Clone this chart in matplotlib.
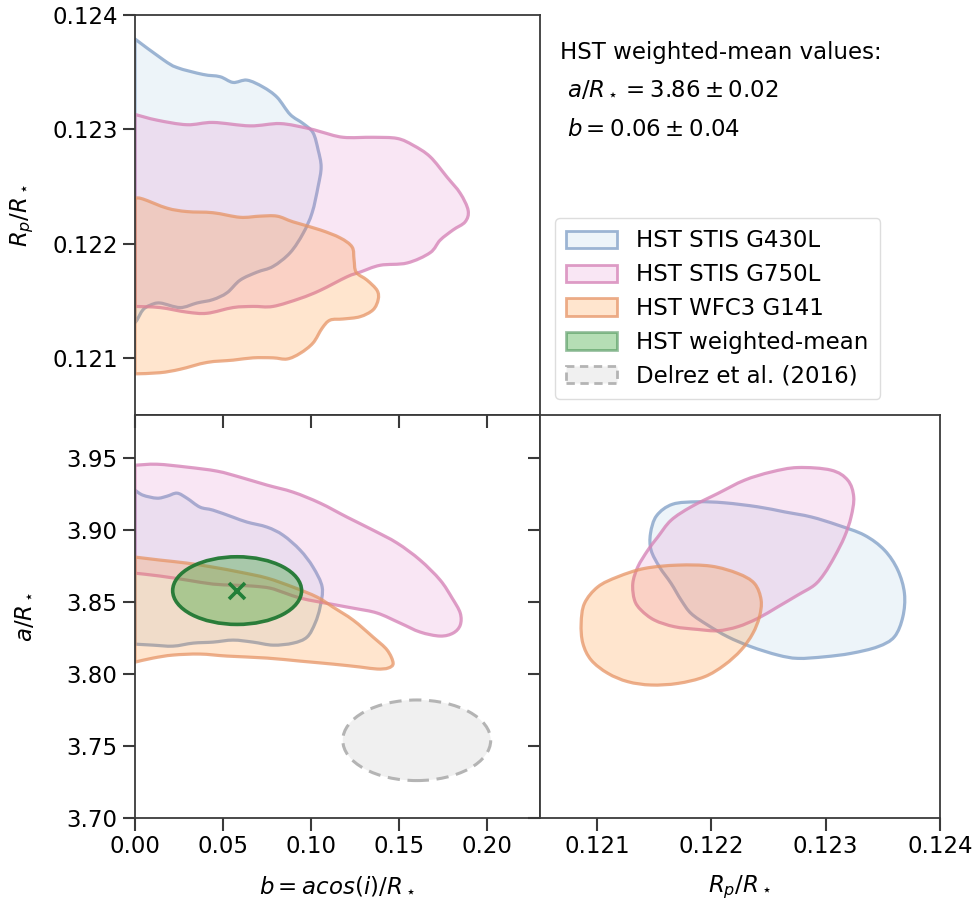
import matplotlib
matplotlib.use("Agg")
import numpy as np
import matplotlib.pyplot as plt
from matplotlib.patches import PathPatch, Ellipse, Patch
from matplotlib.path import Path

# ---------------- data (contour outlines) ----------------
labels = ["HST STIS G430L", "HST STIS G750L", "HST WFC3 G141",
          "HST weighted-mean", "Delrez et al. (2016)"]

# Top-left panel: b vs Rp/R*
g430_b_rp_x = [0, 0.0159, 0.0239, 0.0386, 0.0483, 0.0557, 0.0636, 0.0727, 0.0807, 0.0881,
               0.0955, 0.1011, 0.1040, 0.1057, 0.1040, 0.1006, 0.0955, 0.0881, 0.0784, 0.0693,
               0.0597, 0.0523, 0.0443, 0.0352, 0.0256, 0.0142, 0.0085, 0.0045, 0.0011, 0]
g430_b_rp_y = [0.12379, 0.12361, 0.12354, 0.12348, 0.12346, 0.12341, 0.12343, 0.12337, 0.12328, 0.12313,
               0.12305, 0.12297, 0.12282, 0.12267, 0.12250, 0.12227, 0.12209, 0.12192, 0.12180, 0.12175,
               0.12168, 0.12157, 0.12151, 0.12148, 0.12144, 0.12148, 0.12146, 0.12142, 0.12133, 0.12131]

g750_b_rp_x = [0, 0.0125, 0.0295, 0.0443, 0.0653, 0.0824, 0.0977, 0.1051, 0.1182, 0.1352,
               0.1489, 0.1580, 0.1676, 0.1773, 0.1847, 0.1892, 0.1875, 0.1807, 0.1733, 0.1676,
               0.1545, 0.1392, 0.1278, 0.1205, 0.1051, 0.0938, 0.0784, 0.0670, 0.0557, 0.0409,
               0.0295, 0.0142, 0]
g750_b_rp_y = [0.12313, 0.12308, 0.12304, 0.12306, 0.12303, 0.12305, 0.12301, 0.12298, 0.12293, 0.12293,
               0.12292, 0.12286, 0.12276, 0.12258, 0.12244, 0.12229, 0.12219, 0.12212, 0.12203, 0.12192,
               0.12183, 0.12181, 0.12175, 0.12171, 0.12159, 0.12152, 0.12145, 0.12145, 0.12144, 0.12139,
               0.12140, 0.12144, 0.12145]

g141_b_rp_x = [0, 0.0045, 0.0182, 0.0295, 0.0443, 0.0597, 0.0710, 0.0807, 0.0898, 0.1051,
               0.1165, 0.1233, 0.1244, 0.1256, 0.1318, 0.1375, 0.1381, 0.1352, 0.1278, 0.1182,
               0.1108, 0.1063, 0.1011, 0.0938, 0.0864, 0.0784, 0.0670, 0.0557, 0.0409, 0.0256,
               0.0142, 0]
g141_b_rp_y = [0.12240, 0.12239, 0.12231, 0.12228, 0.12227, 0.12223, 0.12224, 0.12224, 0.12219, 0.12212,
               0.12205, 0.12197, 0.12186, 0.12175, 0.12168, 0.12159, 0.12151, 0.12142, 0.12136, 0.12134,
               0.12133, 0.12126, 0.12113, 0.12104, 0.12099, 0.12100, 0.12100, 0.12098, 0.12096, 0.12090,
               0.12087, 0.12086]

# Bottom-left panel: b vs a/R*
g430_b_a_x = [0, 0.0045, 0.0125, 0.0182, 0.0239, 0.0295, 0.0369, 0.0443, 0.0557, 0.0636,
              0.0750, 0.0841, 0.0938, 0.1011, 0.1063, 0.1051, 0.1023, 0.0977, 0.0898, 0.0784,
              0.0670, 0.0557, 0.0443, 0.0330, 0.0216, 0.0102, 0]
g430_b_a_y = [3.9278, 3.9243, 3.9222, 3.9236, 3.9257, 3.9222, 3.9160, 3.9139, 3.9090, 3.9056,
              3.9021, 3.8965, 3.8861, 3.8743, 3.8604, 3.8465, 3.8354, 3.8257, 3.8215, 3.8201,
              3.8222, 3.8236, 3.8222, 3.8215, 3.8194, 3.8201, 3.8208]

g750_b_a_x = [0, 0.0125, 0.0295, 0.0466, 0.0597, 0.0750, 0.0898, 0.1051, 0.1205, 0.1352,
              0.1489, 0.1619, 0.1733, 0.1801, 0.1847, 0.1847, 0.1807, 0.1733, 0.1619, 0.1506,
              0.1375, 0.1239, 0.1051, 0.0938, 0.0852, 0.0767, 0.0670, 0.0557, 0.0443, 0.0295,
              0.0142, 0]
g750_b_a_y = [3.9451, 3.9458, 3.9438, 3.9410, 3.9368, 3.9313, 3.9264, 3.9188, 3.9090, 3.9000,
              3.8910, 3.8792, 3.8653, 3.8528, 3.8424, 3.8340, 3.8285, 3.8264, 3.8292, 3.8354,
              3.8424, 3.8458, 3.8500, 3.8528, 3.8563, 3.8597, 3.8611, 3.8618, 3.8625, 3.8653,
              3.8681, 3.8701]

g141_b_a_x = [0, 0.0142, 0.0295, 0.0443, 0.0597, 0.0750, 0.0898, 0.1034, 0.1125, 0.1239,
              0.1352, 0.1432, 0.1466, 0.1438, 0.1375, 0.1278, 0.1125, 0.0938, 0.0750, 0.0523,
              0.0369, 0.0216, 0.0102, 0]
g141_b_a_y = [3.8813, 3.8792, 3.8771, 3.8743, 3.8708, 3.8667, 3.8604, 3.8535, 3.8465, 3.8375,
              3.8257, 3.8167, 3.8076, 3.8042, 3.8035, 3.8049, 3.8069, 3.8090, 3.8111, 3.8125,
              3.8139, 3.8132, 3.8111, 3.8083]

# Bottom-right panel: Rp/R* vs a/R*
g430_rp_a_x = [0.121660, 0.121881, 0.122114, 0.122406, 0.122639, 0.122872, 0.123106, 0.123339,
               0.123514, 0.123631, 0.123689, 0.123675, 0.123601, 0.123456, 0.123222, 0.122989,
               0.122756, 0.122581, 0.122347, 0.122143, 0.121968, 0.121822, 0.121735, 0.121647,
               0.121545, 0.121472, 0.121467, 0.121520]
g430_rp_a_y = [3.9180, 3.9197, 3.9190, 3.9162, 3.9127, 3.9092, 3.9035, 3.8965,
               3.8861, 3.8722, 3.8560, 3.8398, 3.8259, 3.8190, 3.8144, 3.8120,
               3.8109, 3.8132, 3.8190, 3.8259, 3.8340, 3.8421, 3.8514, 3.8630,
               3.8745, 3.8861, 3.8977, 3.9100]

g750_rp_a_x = [0.122756, 0.123047, 0.123193, 0.123245, 0.123222, 0.123164, 0.123077, 0.122989,
               0.122901, 0.122756, 0.122581, 0.122406, 0.122231, 0.122056, 0.121881, 0.121676,
               0.121501, 0.121385, 0.121327, 0.121312, 0.121356, 0.121444, 0.121531, 0.121647,
               0.121822, 0.122056, 0.122289, 0.122522]
g750_rp_a_y = [3.9435, 3.9417, 3.9347, 3.9231, 3.9092, 3.8953, 3.8815, 3.8699,
               3.8618, 3.8549, 3.8467, 3.8387, 3.8329, 3.8301, 3.8310, 3.8329,
               3.8375, 3.8444, 3.8514, 3.8630, 3.8745, 3.8861, 3.8953, 3.9069,
               3.9162, 3.9255, 3.9347, 3.9404]

g141_rp_a_x = [0.120889, 0.121006, 0.121181, 0.121414, 0.121706, 0.121997, 0.122231, 0.122376,
               0.122435, 0.122420, 0.122362, 0.122260, 0.122114, 0.121939, 0.121706, 0.121472,
               0.121269, 0.121094, 0.120948, 0.120875, 0.120860]
g141_rp_a_y = [3.8491, 3.8606, 3.8676, 3.8734, 3.8757, 3.8750, 3.8699, 3.8630,
               3.8514, 3.8398, 3.8282, 3.8167, 3.8063, 3.7981, 3.7935, 3.7924,
               3.7947, 3.8005, 3.8097, 3.8213, 3.8352]

# weighted mean and literature values (b, a/R*) with 1-sigma
wm_b, wm_b_err = 0.058, 0.0366
wm_a, wm_a_err = 3.858, 0.0235
delrez_b, delrez_b_err = 0.160, 0.042
delrez_a, delrez_a_err = 3.754, 0.028

b_ticks = [0.00, 0.05, 0.10, 0.15, 0.20]
a_ticks = [3.70, 3.75, 3.80, 3.85, 3.90, 3.95]
rp_ticks = [0.121, 0.122, 0.123, 0.124]

# ---------------- styles ----------------
fills = {"g430": (0.12, 0.47, 0.71, 0.08),
         "g750": (0.89, 0.47, 0.76, 0.18),
         "g141": (1.00, 0.50, 0.05, 0.20)}
edges = {"g430": (0.55, 0.66, 0.80, 0.85),
         "g750": (0.84, 0.52, 0.72, 0.80),
         "g141": (0.90, 0.58, 0.40, 0.75)}
green_fill = (0.17, 0.63, 0.17, 0.35)
green_edge = (0.13, 0.47, 0.20, 0.95)
grey_fill = "#f0f0f0"
grey_edge = "#b4b4b4"
FS = 16.5
LW = 2.3

plt.rcParams.update({"font.size": FS, "axes.edgecolor": "#3a3a3a",
                     "axes.linewidth": 1.3, "xtick.color": "#3a3a3a",
                     "ytick.color": "#3a3a3a", "xtick.labelcolor": "black",
                     "ytick.labelcolor": "black", "mathtext.fontset": "dejavusans"})

fig = plt.figure(figsize=(9.75, 9.01), dpi=100)
ax_tl = fig.add_axes([135/975, 1-415/901, 405/975, 400/901])
ax_bl = fig.add_axes([135/975, 1-818/901, 405/975, 403/901])
ax_br = fig.add_axes([540/975, 1-818/901, 400/975, 403/901])


def smooth_path(xs, ys, closed):
    """Smooth outline through the traced vertices (cubic Bezier segments)."""
    P = np.column_stack([xs, ys]).astype(float)
    n = len(P)
    if closed:
        get = lambda i: P[i % n]
        segs = range(n)
    else:
        get = lambda i: P[min(max(i, 0), n - 1)]
        segs = range(n - 1)
    verts = [P[0]]
    codes = [Path.MOVETO]
    for i in segs:
        p0, p1, p2, p3 = get(i - 1), get(i), get(i + 1), get(i + 2)
        verts += [p1 + (p2 - p0) / 6.0, p2 - (p3 - p1) / 6.0, p2]
        codes += [Path.CURVE4] * 3
    verts.append(P[0])
    codes.append(Path.CLOSEPOLY)
    return Path(verts, codes)


def add_poly(ax, xs, ys, key, closed=True):
    ax.add_patch(PathPatch(smooth_path(xs, ys, closed), facecolor=fills[key],
                           edgecolor=edges[key], lw=LW, joinstyle="round"))


# top-left
add_poly(ax_tl, g430_b_rp_x, g430_b_rp_y, "g430", closed=False)
add_poly(ax_tl, g750_b_rp_x, g750_b_rp_y, "g750", closed=False)
add_poly(ax_tl, g141_b_rp_x, g141_b_rp_y, "g141", closed=False)
# bottom-left
add_poly(ax_bl, g430_b_a_x, g430_b_a_y, "g430", closed=False)
add_poly(ax_bl, g750_b_a_x, g750_b_a_y, "g750", closed=False)
add_poly(ax_bl, g141_b_a_x, g141_b_a_y, "g141", closed=False)
ax_bl.add_patch(Ellipse((wm_b, wm_a), 2*wm_b_err, 2*wm_a_err, facecolor=green_fill,
                        edgecolor=green_edge, lw=2.6, zorder=5))
ax_bl.plot([wm_b], [wm_a], marker="x", ms=11, mew=2.6, color=(0.13, 0.50, 0.22), zorder=6)
ax_bl.add_patch(Ellipse((delrez_b, delrez_a), 2*delrez_b_err, 2*delrez_a_err,
                        facecolor=grey_fill, edgecolor=grey_edge, lw=2.2,
                        ls=(0, (4, 2.5)), zorder=4))
# bottom-right
add_poly(ax_br, g430_rp_a_x, g430_rp_a_y, "g430")
add_poly(ax_br, g750_rp_a_x, g750_rp_a_y, "g750")
add_poly(ax_br, g141_rp_a_x, g141_rp_a_y, "g141")

# limits
ax_tl.set_xlim(0, 0.23)
ax_tl.set_ylim(0.1205, 0.124)
ax_bl.set_xlim(0, 0.23)
ax_bl.set_ylim(3.70, 3.98)
ax_br.set_xlim(0.1205, 0.124)
ax_br.set_ylim(3.70, 3.98)

TL, TW = 9, 1.5
# top-left ticks
ax_tl.set_yticks(rp_ticks)
ax_tl.set_yticklabels([f"{v:.3f}" for v in rp_ticks])
ax_tl.set_xticks([])
ax_tl.tick_params(axis="y", direction="out", length=TL, width=TW, left=True, right=False)
ax_tl.set_ylabel(r"$R_p/R_\star$")
ax_tl.yaxis.set_label_coords(-0.245, 0.5)

# bottom-left ticks
ax_bl.set_xticks(b_ticks)
ax_bl.set_xticklabels([f"{v:.2f}" for v in b_ticks])
ax_bl.set_yticks(a_ticks)
ax_bl.set_yticklabels([f"{v:.2f}" for v in a_ticks])
ax_bl.tick_params(axis="both", which="major", direction="out", length=TL, width=TW)
ax_bl.tick_params(axis="x", top=True, labeltop=False)
ax_bl.tick_params(axis="y", right=True, labelright=False)
for t in ax_bl.xaxis.get_major_ticks():
    t.tick2line.set_marker(matplotlib.lines.TICKDOWN)
for t in ax_bl.yaxis.get_major_ticks():
    t.tick2line.set_marker(matplotlib.lines.TICKLEFT)
ax_bl.set_xlabel(r"$b = acos(i)/R_\star$", labelpad=12)
ax_bl.set_ylabel(r"$a/R_\star$")
ax_bl.yaxis.set_label_coords(-0.245, 0.5)

# bottom-right ticks
ax_br.set_xticks(rp_ticks)
ax_br.set_xticklabels([f"{v:.3f}" for v in rp_ticks])
ax_br.set_yticks([])
ax_br.tick_params(axis="x", direction="out", length=TL, width=TW)
ax_br.set_xlabel(r"$R_p/R_\star$", labelpad=11)

# text block
fig.text(560/975, 1-52/901, "HST weighted-mean values:", fontsize=FS, va="center", ha="left")
fig.text(567/975, 1-90/901, r"$a/R_\star = 3.86 \pm 0.02$", fontsize=FS, va="center", ha="left")
fig.text(567/975, 1-129/901, r"$b = 0.06 \pm 0.04$", fontsize=FS, va="center", ha="left")

# legend
handles = [Patch(facecolor=fills["g430"], edgecolor=edges["g430"], lw=2),
           Patch(facecolor=fills["g750"], edgecolor=edges["g750"], lw=2),
           Patch(facecolor=fills["g141"], edgecolor=edges["g141"], lw=2),
           Patch(facecolor=green_fill, edgecolor=(0.13, 0.47, 0.20, 0.45), lw=2),
           Patch(facecolor=grey_fill, edgecolor=grey_edge, lw=2, ls=(0, (3, 2)))]
fig.legend(handles, labels, loc="upper left", bbox_to_anchor=(555/975, 1-218/901),
           fontsize=FS, frameon=True, fancybox=True, framealpha=1, edgecolor="#dddddd",
           handlelength=2.2, handleheight=0.8, labelspacing=0.47, borderpad=0.5,
           handletextpad=0.85, borderaxespad=0)

fig.savefig("out.png", dpi=100)
